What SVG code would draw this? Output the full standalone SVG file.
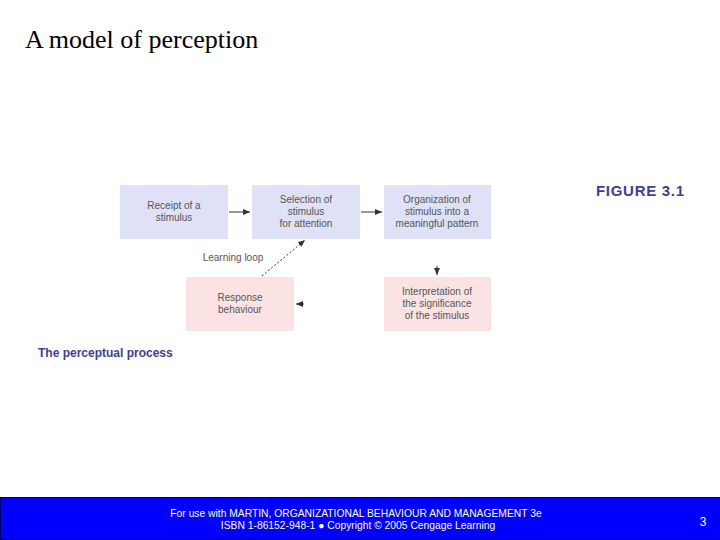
<svg xmlns="http://www.w3.org/2000/svg" width="720" height="540" viewBox="0 0 720 540">
<style>
.n{font-family:"Liberation Sans",Arial,sans-serif;font-size:10px;fill:#555;text-anchor:middle}
.b{fill:#dfe1f7}.p{fill:#fbe3e3}
.c{stroke:#333;stroke-width:1;fill:none}
</style>
<defs><marker id="a" markerWidth="8" markerHeight="8" refX="7" refY="4" orient="auto" markerUnits="userSpaceOnUse"><path d="M0,1 L7,4 L0,7 Z" fill="#333"/></marker></defs>
<rect width="720" height="540" fill="#fff"/>
<text x="25" y="48" font-family="Liberation Serif,serif" font-size="26" fill="#000">A model of perception</text>
<text x="596" y="196" font-family="Liberation Sans,Arial,sans-serif" font-size="15" font-weight="bold" letter-spacing="0.7" fill="#3d3d9c">FIGURE 3.1</text>
<text x="38" y="357" font-family="Liberation Sans,Arial,sans-serif" font-size="12" font-weight="bold" fill="#3d3d9c">The perceptual process</text>
<g id="n1"><rect class="b" x="120" y="185" width="108" height="54"/><text class="n" x="174" y="209">Receipt of a</text><text class="n" x="174" y="221">stimulus</text></g>
<g id="n2"><rect class="b" x="252" y="185" width="108" height="54"/><text class="n" x="306" y="203">Selection of</text><text class="n" x="306" y="215">stimulus</text><text class="n" x="306" y="227">for attention</text></g>
<g id="n3"><rect class="b" x="384" y="185" width="107" height="54"/><text class="n" x="437" y="203">Organization of</text><text class="n" x="437" y="215">stimulus into a</text><text class="n" x="437" y="227">meaningful pattern</text></g>
<g id="n4"><rect class="p" x="384" y="277" width="107" height="54"/><text class="n" x="437" y="295">Interpretation of</text><text class="n" x="437" y="307">the significance</text><text class="n" x="437" y="319">of the stimulus</text></g>
<g id="n5"><rect class="p" x="186" y="277" width="108" height="54"/><text class="n" x="240" y="301">Response</text><text class="n" x="240" y="313">behaviour</text></g>
<g id="connectors">
<line class="c" x1="229" y1="212" x2="250" y2="212" marker-end="url(#a)"/>
<line class="c" x1="361" y1="212" x2="382" y2="212" marker-end="url(#a)"/>
<line class="c" x1="437" y1="266" x2="437" y2="275" marker-end="url(#a)"/>
<line class="c" x1="304" y1="304" x2="296" y2="304" marker-end="url(#a)"/>
<line class="c" x1="262" y1="276" x2="305" y2="240" stroke-dasharray="2,2" marker-end="url(#a)"/>
<text class="n" x="233" y="261">Learning loop</text>
</g>
<rect x="0.5" y="497.5" width="719" height="42" fill="#0000ff" stroke="#000060"/>
<text x="356" y="517" font-family="Liberation Sans,Arial,sans-serif" font-size="10.3" fill="#fff" text-anchor="middle">For use with MARTIN, ORGANIZATIONAL BEHAVIOUR AND MANAGEMENT 3e</text>
<text x="358" y="529" font-family="Liberation Sans,Arial,sans-serif" font-size="10.3" fill="#fff" text-anchor="middle">ISBN 1-86152-948-1 ● Copyright © 2005 Cengage Learning</text>
<text x="703" y="526" font-family="Liberation Sans,Arial,sans-serif" font-size="12" fill="#fff" text-anchor="middle">3</text>
</svg>
